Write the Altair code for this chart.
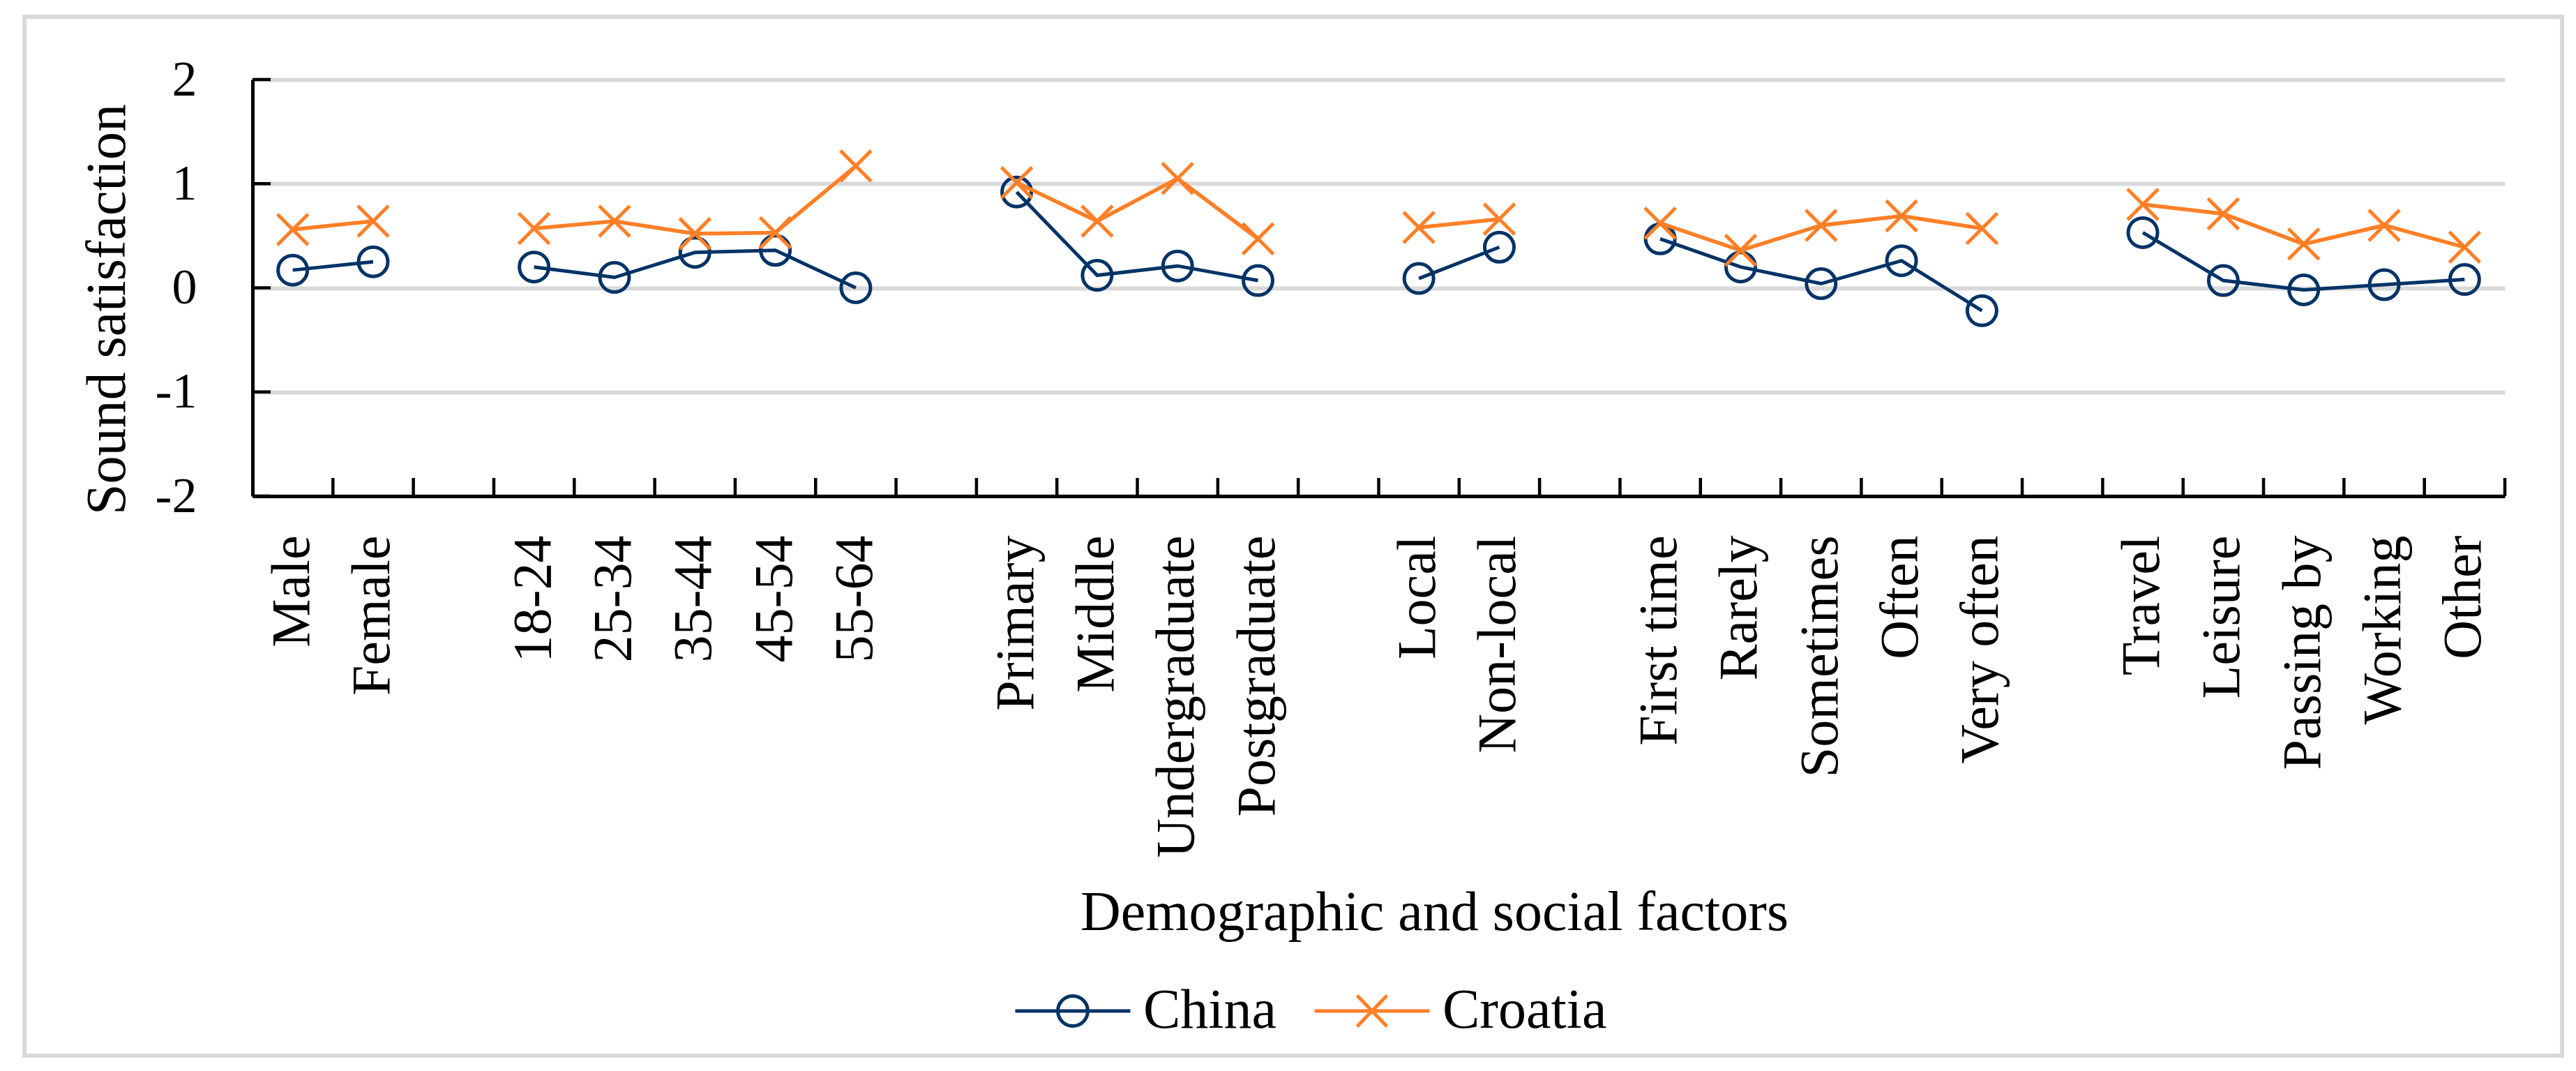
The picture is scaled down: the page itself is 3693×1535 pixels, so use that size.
import pandas as pd
import altair as alt

# x categories, blank strings are the empty slots between factor groups
categories = ["Male", "Female", " ",
              "18-24", "25-34", "35-44", "45-54", "55-64", "  ",
              "Primary", "Middle", "Undergraduate", "Postgraduate", "   ",
              "Local", "Non-local", "    ",
              "First time", "Rarely", "Sometimes", "Often", "Very often", "     ",
              "Travel", "Leisure", "Passing by", "Working", "Other"]
groups = [1, 1, 0, 2, 2, 2, 2, 2, 0, 3, 3, 3, 3, 0, 4, 4, 0,
          5, 5, 5, 5, 5, 0, 6, 6, 6, 6, 6]
china = [0.17, 0.25, None, 0.20, 0.10, 0.34, 0.36, 0.00, None,
         0.92, 0.12, 0.21, 0.07, None, 0.09, 0.39, None,
         0.47, 0.20, 0.04, 0.26, -0.22, None, 0.53, 0.07, -0.02, 0.03, 0.08]
croatia = [0.56, 0.64, None, 0.57, 0.64, 0.52, 0.53, 1.17, None,
           1.01, 0.64, 1.05, 0.47, None, 0.58, 0.66, None,
           0.62, 0.36, 0.60, 0.69, 0.57, None, 0.80, 0.71, 0.42, 0.60, 0.39]
countries = ["China", "Croatia"]
y_ticks = [-2, -1, 0, 1, 2]

colors = ["#003366", "#FF7F27"]
FONT = "Liberation Serif"
W, H = 3229, 597

rows = []
for cat, grp, v1, v2 in zip(categories, groups, china, croatia):
    if v1 is not None:
        rows.append({"Category": cat, "Group": grp, "Country": "China", "Value": v1})
    if v2 is not None:
        rows.append({"Category": cat, "Group": grp, "Country": "Croatia", "Value": v2})
df = pd.DataFrame(rows)
ticks_x = pd.DataFrame({"Category": categories})
ticks_y = pd.DataFrame({"Value": y_ticks})

X_PATH = "M-1,-1L1,1M-1,1L1,-1"
legend_paths = [
    "M-1,0L1,0M0.26,0A0.26,0.26,0,1,1,-0.26,0A0.26,0.26,0,1,1,0.26,0",
    "M-1,0L1,0M-0.26,-0.27L0.26,0.27M-0.26,0.27L0.26,-0.27",
]

x_scale = alt.Scale(type="band", domain=categories, paddingInner=0, paddingOuter=0)
y_scale = alt.Scale(domain=[-2, 2])

x_axis = alt.Axis(
    title="Demographic and social factors",
    labelAngle=270, labelFont=FONT, labelFontSize=78, labelColor="black",
    labelPadding=56, labelLimit=1000, ticks=False, tickSize=0, grid=False,
    domainColor="black", domainWidth=5,
    titleFont=FONT, titleFontSize=80, titleFontWeight="normal", titleColor="black",
    titleX=1694, titleY=621, titleBaseline="alphabetic", titleAlign="center",
)
y_axis = alt.Axis(
    title="Sound satisfaction", values=y_ticks, labelExpr="'' + datum.value",
    labelFont=FONT, labelFontSize=72, labelColor="black", labelPadding=80,
    ticks=False, tickSize=0, grid=True, gridColor="#d9d9d9", gridWidth=6,
    domainColor="black", domainWidth=5,
    titleFont=FONT, titleFontSize=80, titleFontWeight="normal", titleColor="black",
    titleAngle=270, titleX=-184, titleY=329, titleBaseline="alphabetic", titleAlign="center",
)


def x_enc(pos):
    return alt.X("Category:N", scale=x_scale, axis=x_axis, bandPosition=pos)


def y_enc():
    return alt.Y("Value:Q", scale=y_scale, axis=y_axis)


base = alt.Chart(df)

# grey frame round the whole figure
frame = alt.Chart(pd.DataFrame({"f": [0]})).mark_rect(
    fill="transparent", stroke="#d9d9d9", strokeWidth=6
).encode(x=alt.value(-327), x2=alt.value(3311), y=alt.value(-90), y2=alt.value(1399))

china_line = base.transform_filter(alt.datum.Country == "China").mark_line(
    color=colors[0], strokeWidth=5
).encode(x=x_enc(0.5), y=y_enc(), detail="Group:N")
china_pts = base.transform_filter(alt.datum.Country == "China").mark_point(
    shape="circle", filled=False, color=colors[0], size=1764, strokeWidth=5, opacity=1
).encode(x=x_enc(0.5), y=y_enc())

croatia_line = base.transform_filter(alt.datum.Country == "Croatia").mark_line(
    color=colors[1], strokeWidth=5.5
).encode(x=x_enc(0.5), y=y_enc(), detail="Group:N")
croatia_pts = base.transform_filter(alt.datum.Country == "Croatia").mark_point(
    shape=X_PATH, filled=False, color=colors[1], size=1936, strokeWidth=5, opacity=1
).encode(x=x_enc(0.5), y=y_enc())

# inside tick marks
xt = alt.Chart(ticks_x).mark_rule(color="black", strokeWidth=4.5).encode(
    x=x_enc(1), y=alt.value(H), y2=alt.value(H - 26)
)
yt = alt.Chart(ticks_y).mark_rule(color="black", strokeWidth=4.5).encode(
    y=y_enc(), x=alt.value(0), x2=alt.value(26)
)

leg = alt.Legend(
    title="", orient="none", legendX=1091, legendY=1250, direction="horizontal",
    symbolSize=27225, symbolStrokeWidth=5, labelFont=FONT, labelFontSize=80,
    labelColor="black", labelOffset=16, columnPadding=43, padding=0, labelLimit=1000,
)
legend_layer = base.transform_filter("false").mark_point(
    filled=False, strokeWidth=5, opacity=1
).encode(
    color=alt.Color("Country:N", scale=alt.Scale(domain=countries, range=colors), legend=leg),
    shape=alt.Shape("Country:N", scale=alt.Scale(domain=countries, range=legend_paths), legend=leg),
)

chart = alt.layer(
    frame, china_line, china_pts, croatia_line, croatia_pts, xt, yt, legend_layer
).properties(
    width=W, height=H,
    padding={"left": 24, "top": 13, "right": 5, "bottom": 5},
).configure_view(stroke="transparent")

chart.save("out.html", embed_options={"renderer": "svg", "actions": False})
